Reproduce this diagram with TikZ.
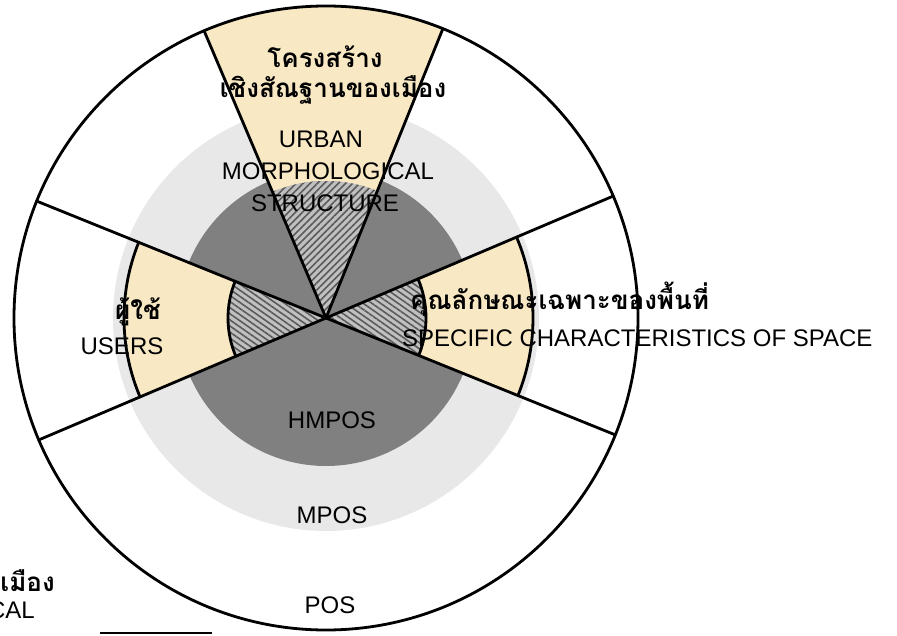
\documentclass[tikz,border=0pt]{standalone}
\usepackage{fontspec}
\setmainfont{Liberation Sans}
\newfontfamily\thaifont[Script=Thai]{Loma}
\usetikzlibrary{patterns.meta}
\definecolor{yel}{RGB}{248,232,196}
\definecolor{lgrey}{RGB}{232,232,232}
\definecolor{dgrey}{RGB}{128,128,128}
\definecolor{hgrey}{RGB}{192,192,192}
\definecolor{hline}{RGB}{90,90,90}
\begin{document}
\begin{tikzpicture}[x=1pt,y=1pt,
  rim/.style={line width=2.8pt, black, line cap=round},
  en/.style={font=\fontsize{24}{28}\selectfont, inner sep=0pt},
  th/.style={font=\thaifont\bfseries\fontsize{26}{30}\selectfont, inner sep=0pt},
  hatchA/.style={fill=hgrey, postaction={pattern={Lines[angle=45,distance=5pt,line width=1.6pt]}, pattern color=hline}},
  hatchB/.style={fill=hgrey, postaction={pattern={Lines[angle=-35,distance=5pt,line width=1.6pt]}, pattern color=hline}}]
\useasboundingbox (0,0) rectangle (897,635);
\fill[white] (0,0) rectangle (897,635);
\begin{scope}[shift={(326,317)}]
  \coordinate (C) at (0,0);
  % background disks
  \fill[white] (C) circle[radius=312pt];
  \fill[lgrey] (C) circle[radius=213pt];
  \fill[dgrey] (C) circle[radius=148pt];
  % yellow sectors
  \fill[yel] (68:137pt) arc[start angle=68,end angle=113,radius=137pt]
     -- (113:312pt) arc[start angle=113,end angle=68,radius=312pt] -- cycle;
  \fill[yel] (158:98pt) arc[start angle=158,end angle=203,radius=98pt]
     -- (203:202pt) arc[start angle=203,end angle=158,radius=202pt] -- cycle;
  \fill[yel] (-22:100pt) arc[start angle=-22,end angle=23,radius=100pt]
     -- (23:207pt) arc[start angle=23,end angle=-22,radius=207pt] -- cycle;
  % hatched inner sectors
  \path[hatchA] (C) -- (68:137pt) arc[start angle=68,end angle=113,radius=137pt] -- cycle;
  \path[hatchB] (C) -- (158:98pt) arc[start angle=158,end angle=203,radius=98pt] -- cycle;
  \path[hatchB] (C) -- (-22:100pt) arc[start angle=-22,end angle=23,radius=100pt] -- cycle;
  % spoke ends
  \coordinate (s1) at (23:312pt);
  \coordinate (s2) at (68:312pt);
  \coordinate (s3) at (113:312pt);
  \coordinate (s4) at (158:312pt);
  \coordinate (s5) at (203:312pt);
  \coordinate (s6) at (-22:312pt);
  % arcs of the yellow bands
  \draw[rim] (158:98pt) arc[start angle=158,end angle=203,radius=98pt];
  \draw[rim] (158:202pt) arc[start angle=158,end angle=203,radius=202pt];
  \draw[rim] (-22:100pt) arc[start angle=-22,end angle=23,radius=100pt];
  \draw[rim] (-22:207pt) arc[start angle=-22,end angle=23,radius=207pt];
  % spokes
  \foreach \s in {s1,s2,s3,s4,s5,s6} \draw[rim] (C) -- (\s);
  % outer circle
  \draw[rim] (C) circle[radius=312pt];
\end{scope}
% labels
\node[th, anchor=base] (t1) at (325,567) {โครงสร้าง};
\node[th, anchor=base] (t2) at (333,537) {เชิงสัณฐานของเมือง};
\node[en, anchor=base] (u1) at (321,487) {URBAN};
\node[en, anchor=base] (u2) at (328,455) {MORPHOLOGICAL};
\node[en, anchor=base] (u3) at (325,423) {STRUCTURE};
\node[th, anchor=base] (us1) at (138,315) {ผู้ใช้};
\node[en, anchor=base] (us2) at (122,280) {USERS};
\node[th, anchor=base west] (sp1) at (410,325) {คุณลักษณะเฉพาะของพื้นที่};
\node[en, anchor=base west] (sp2) at (402,288) {SPECIFIC CHARACTERISTICS OF SPACE};
\node[en, anchor=base] (h) at (332,206) {HMPOS};
\node[en, anchor=base] (m) at (332,112) {MPOS};
\node[en, anchor=base] (p) at (330,22) {POS};
% cut-off fragments at the lower left
\node[th, anchor=base east] (f1) at (55,44) {เมือง};
\node[en, anchor=base east] (f2) at (35,17) {CAL};
\coordinate (la) at (100,2);
\coordinate (lb) at (212,2);
\draw[line width=1.5pt] (la) -- (lb);
\end{tikzpicture}
\end{document}
